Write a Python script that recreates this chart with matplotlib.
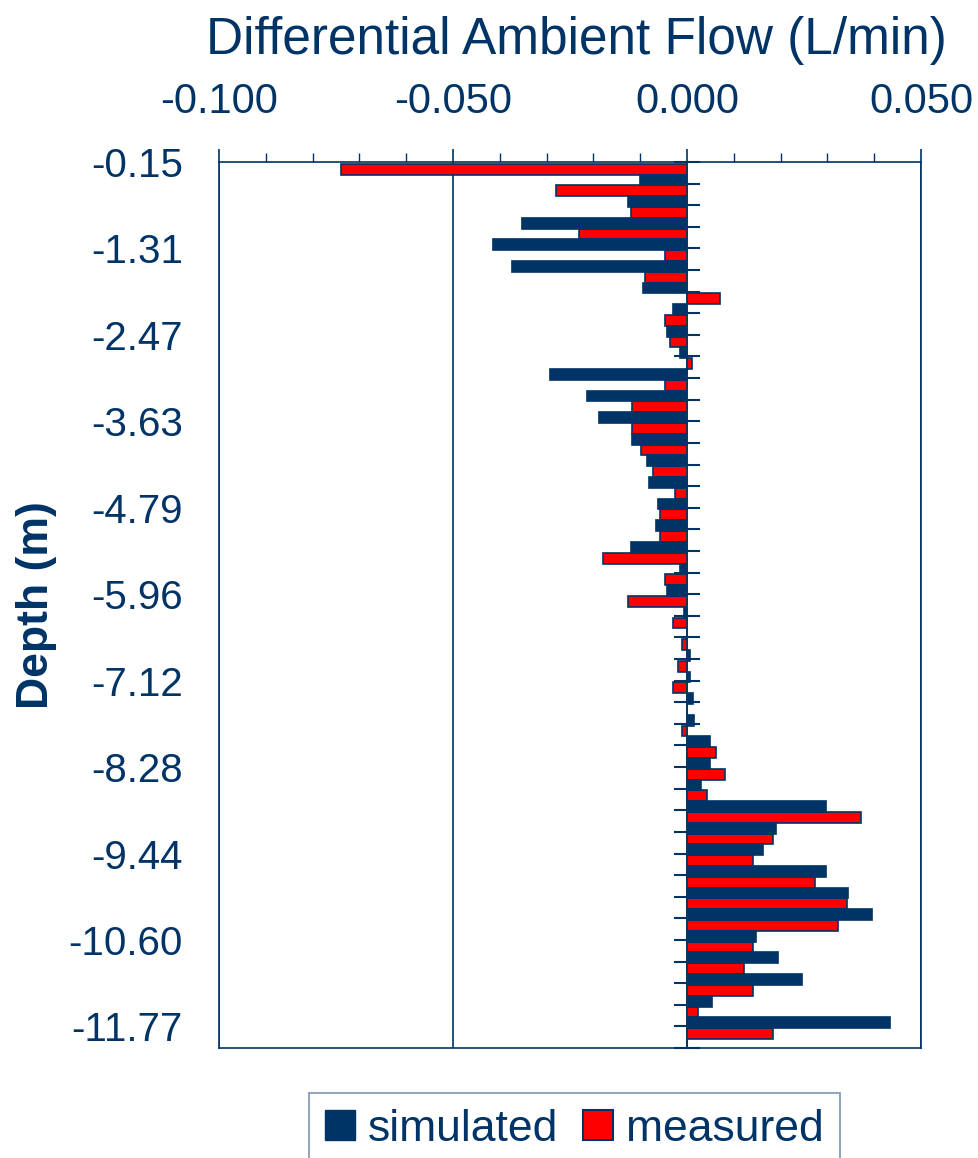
import numpy as np
import matplotlib
matplotlib.use("Agg")
import matplotlib.pyplot as plt
from matplotlib import font_manager
from matplotlib.patches import Patch
from matplotlib.ticker import MultipleLocator

# depth labels shown every 4th interval (m)
depth_labels = ["-0.15", "-1.31", "-2.47", "-3.63", "-4.79", "-5.96",
                "-7.12", "-8.28", "-9.44", "-10.60", "-11.77"]

# differential ambient flow (L/min), top to bottom
measured = [-0.074, -0.028, -0.012, -0.023, -0.0047, -0.009, 0.007, -0.0047,
            -0.0037, 0.001, -0.0047, -0.0118, -0.0118, -0.0099, -0.0072, -0.0026,
            -0.0057, -0.0057, -0.0179, -0.0047, -0.0127, -0.003, -0.001, -0.002,
            -0.003, 0.0, -0.001, 0.0063, 0.0081, 0.0043, 0.0372, 0.0184,
            0.0142, 0.0273, 0.0341, 0.0323, 0.014, 0.0122, 0.0142, 0.0024, 0.0184]
simulated = [-0.010, -0.0127, -0.0353, -0.0414, -0.0373, -0.0095, -0.003, -0.0043,
             -0.0016, -0.0292, -0.0213, -0.0189, -0.0118, -0.0086, -0.0082, -0.0062,
             -0.0067, -0.0119, -0.0016, -0.0043, -0.0007, 0.0, 0.0007, 0.0007,
             0.0012, 0.0016, 0.0049, 0.0049, 0.003, 0.0297, 0.019, 0.0162,
             0.0297, 0.0345, 0.0396, 0.0147, 0.0195, 0.0246, 0.0053, 0.0434, 0.0]

x_ticks = [-0.100, -0.050, 0.000, 0.050]

NAVY = '#003366'
RED = '#FF0000'

plt.rcParams['font.family'] = ['Liberation Sans', 'DejaVu Sans']

names = {f.name for f in font_manager.fontManager.ttflist}
if 'Liberation Sans Narrow' in names:
    title_font, title_size, title_weight = 'Liberation Sans Narrow', 42, 'bold'
else:
    title_font, title_size, title_weight = 'Liberation Sans', 37, 'normal'

W, H = 979, 1158
fig = plt.figure(figsize=(W / 100, H / 100), dpi=100)
ax = fig.add_axes([219 / W, 1 - 1048 / H, (921 - 219) / W, (1048 - 162) / H])

n = len(measured)
pos = np.arange(n)

ax.barh(pos + 0.33, measured, height=0.5, color=RED, edgecolor=NAVY,
        linewidth=1.2, zorder=3)
ax.barh(pos + 0.83, simulated, height=0.5, color=NAVY, edgecolor=NAVY,
        linewidth=1.2, zorder=3)

# category tick marks across the zero line
ax.plot(np.zeros(n + 1), np.arange(n + 1), ls='none', marker='_', ms=19,
        mew=1.5, color=NAVY, zorder=2, clip_on=False)

ax.set_xlim(x_ticks[0], x_ticks[-1])
ax.set_ylim(n, 0)

ax.xaxis.tick_top()
ax.set_xticks(x_ticks)
ax.set_xticklabels([f"{v:.3f}" for v in x_ticks])
ax.xaxis.set_minor_locator(MultipleLocator(0.01))
ax.tick_params(axis='x', which='major', direction='out', length=9.5, width=1.2,
               color=NAVY, labelcolor=NAVY, labelsize=30, pad=19)
ax.tick_params(axis='x', which='minor', direction='out', length=6.5, width=1.0,
               color=NAVY)

ax.set_yticks(pos[::4])
ax.set_yticklabels(depth_labels)
ax.tick_params(axis='y', length=0, pad=26, labelsize=29, labelcolor=NAVY)

ax.set_axisbelow(True)
ax.grid(axis='x', which='major', color=NAVY, linewidth=1.2)
for sp in ax.spines.values():
    sp.set_color(NAVY)
    sp.set_linewidth(1.2)

fig.text(576 / W, 1 - 54 / H, 'Differential Ambient Flow (L/min)', ha='center',
         va='baseline', fontsize=title_size, color=NAVY,
         family=[title_font, 'DejaVu Sans'], weight=title_weight)
fig.text(37 / W, 1 - 605 / H, 'Depth (m)', rotation=90, ha='center', va='center',
         fontsize=32, weight='bold', color=NAVY)

handles = [Patch(facecolor=NAVY, edgecolor=NAVY),
           Patch(facecolor=RED, edgecolor=NAVY, linewidth=1.5)]
leg = fig.legend(handles, ['simulated', 'measured'], loc='upper left',
                 bbox_to_anchor=(309 / W, 1 - 1093 / H), ncol=2, fontsize=32,
                 frameon=True, fancybox=False, edgecolor='#5A7BA0',
                 borderaxespad=0, borderpad=0.35, handlelength=0.68,
                 handleheight=0.68, handletextpad=0.3, columnspacing=0.55,
                 labelcolor=NAVY)
leg.get_frame().set_linewidth(1.2)

fig.savefig('out.png', dpi=100)
